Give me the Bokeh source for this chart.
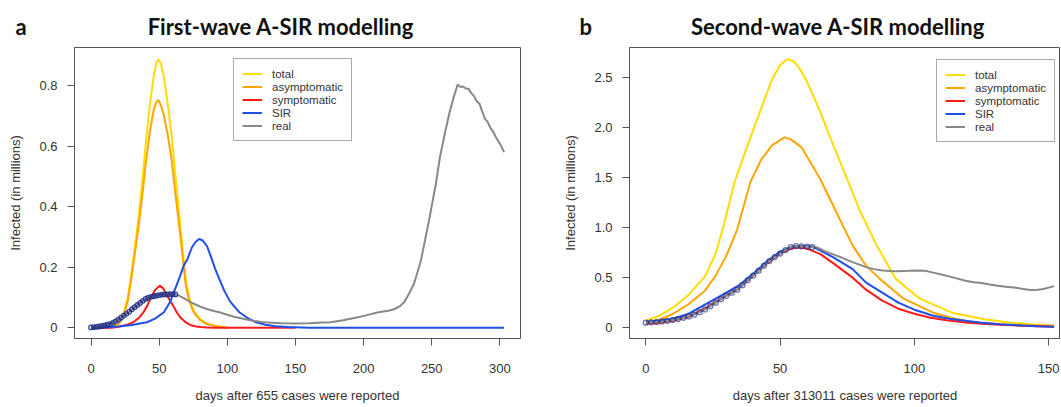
from bokeh.plotting import figure
from bokeh.layouts import row
from bokeh.models import Range1d, FixedTicker, Title
from bokeh.embed import file_html
from bokeh.resources import INLINE

# ---------------- data: first wave (panel a) ----------------
total1_days = [0, 10, 15, 18, 21, 24, 27, 29, 32, 35, 38, 40, 43, 46, 48, 49.4, 51, 53, 56, 59,
               62, 64.6, 67, 69.5, 72, 75, 77, 80, 85, 92, 100]
total1_vals = [0.0, 0.001, 0.003, 0.006, 0.02, 0.05, 0.10, 0.16, 0.26, 0.37, 0.50, 0.60, 0.73, 0.83,
               0.875, 0.886, 0.875, 0.84, 0.75, 0.64, 0.50, 0.38, 0.27, 0.16, 0.10, 0.06, 0.045,
               0.028, 0.013, 0.005, 0.0]
asym1_vals = [0.0, 0.001, 0.003, 0.005, 0.016, 0.043, 0.089, 0.145, 0.24, 0.338, 0.452, 0.535,
              0.643, 0.72, 0.745, 0.752, 0.737, 0.71, 0.645, 0.56, 0.44, 0.34, 0.242, 0.142,
              0.09, 0.054, 0.041, 0.026, 0.012, 0.005, 0.0]
sym1_days = [0, 15, 19, 23, 27, 31, 35, 38, 41.3, 44, 47, 50.4, 53, 56, 60.2, 63, 66, 69.5, 73,
             77, 80.6, 85, 90, 150]
sym1_vals = [0.0, 0.0, 0.002, 0.006, 0.011, 0.018, 0.032, 0.048, 0.073, 0.10, 0.125, 0.139, 0.13,
             0.105, 0.073, 0.05, 0.032, 0.018, 0.009, 0.004, 0.002, 0.001, 0.0, 0.0]
sir1_days = [0, 10, 20, 30, 41, 47, 53.5, 58, 61, 64.6, 68, 70.8, 74, 77, 79.4, 82, 85, 88, 91,
             94.1, 98, 102, 108.8, 115, 121, 128, 135, 145, 160, 303]
sir1_vals = [0.0, 0.001, 0.004, 0.009, 0.018, 0.03, 0.051, 0.085, 0.12, 0.161, 0.205, 0.227,
             0.265, 0.285, 0.293, 0.288, 0.27, 0.235, 0.195, 0.161, 0.12, 0.087, 0.051, 0.032,
             0.018, 0.01, 0.005, 0.002, 0.0, 0.0]
fit1_days = list(range(0, 64, 2))
fit1_vals = [0.001, 0.002, 0.003, 0.004, 0.006, 0.008, 0.010, 0.012, 0.016, 0.021, 0.027, 0.033,
             0.040, 0.046, 0.053, 0.061, 0.068, 0.075, 0.082, 0.089, 0.095, 0.099, 0.102, 0.104,
             0.106, 0.108, 0.109, 0.110, 0.110, 0.111, 0.111, 0.110]
rest1_days = [65, 70, 75, 80, 85, 90, 95, 100, 105, 110, 115, 120, 125, 130, 140, 150, 160, 170,
              176, 185, 195, 201, 210, 218, 223, 227, 230, 233, 237, 242, 248, 253, 256, 260, 263,
              266, 269, 271, 273, 275, 277, 279, 281, 283, 285, 287, 289, 291, 293, 295, 297, 299,
              301, 303]
rest1_vals = [0.105, 0.093, 0.080, 0.070, 0.062, 0.055, 0.050, 0.043, 0.036, 0.031, 0.026, 0.022,
              0.019, 0.017, 0.015, 0.014, 0.015, 0.017, 0.018, 0.025, 0.034, 0.040, 0.050, 0.056,
              0.062, 0.072, 0.086, 0.110, 0.145, 0.221, 0.354, 0.475, 0.563, 0.650, 0.710, 0.760,
              0.803, 0.795, 0.797, 0.790, 0.789, 0.775, 0.765, 0.748, 0.740, 0.715, 0.690, 0.680,
              0.660, 0.648, 0.630, 0.615, 0.600, 0.580]

# ---------------- data: second wave (panel b) ----------------
total2_days = [0, 5, 10, 16, 22, 26, 29, 33, 38, 42.4, 47, 50, 52.6, 55, 57, 59.5, 61, 65, 70,
               75, 80, 86, 93, 102, 114, 125, 135, 145, 152]
total2_vals = [0.07, 0.12, 0.197, 0.33, 0.51, 0.74, 1.02, 1.45, 1.83, 2.15, 2.48, 2.62, 2.68,
               2.66, 2.60, 2.48, 2.40, 2.15, 1.81, 1.48, 1.15, 0.82, 0.49, 0.29, 0.15, 0.09,
               0.053, 0.03, 0.02]
asym2_days = [0, 5, 10, 16, 22, 26, 30, 34, 39, 43, 47, 51.6, 54, 58, 62, 65, 71, 77, 82, 87,
              96, 107, 115, 122, 135, 152]
asym2_vals = [0.04, 0.08, 0.137, 0.236, 0.37, 0.52, 0.72, 0.98, 1.46, 1.68, 1.82, 1.90, 1.88,
              1.80, 1.62, 1.48, 1.15, 0.82, 0.62, 0.49, 0.29, 0.15, 0.09, 0.055, 0.03, 0.02]
sym2_days = [0, 5, 10, 16, 22, 28, 34.5, 40, 45, 50, 54, 57, 60, 65, 70, 77, 82, 88, 94, 100,
             106, 112, 119, 125, 132, 140, 146, 152]
sym2_vals = [0.04, 0.05, 0.07, 0.11, 0.19, 0.29, 0.39, 0.52, 0.64, 0.74, 0.79, 0.80, 0.79, 0.735,
             0.64, 0.50, 0.38, 0.27, 0.19, 0.14, 0.10, 0.075, 0.053, 0.04, 0.03, 0.02, 0.015, 0.01]
sir2_days = [0, 5, 10, 16, 22, 28, 34.5, 40, 45, 50, 54, 58, 62, 65, 70, 77, 82, 88, 94, 100,
             107, 113, 119, 125, 132, 140, 146, 152]
sir2_vals = [0.06, 0.07, 0.087, 0.14, 0.23, 0.32, 0.42, 0.54, 0.66, 0.76, 0.805, 0.815, 0.81,
             0.77, 0.70, 0.585, 0.45, 0.35, 0.25, 0.18, 0.12, 0.09, 0.07, 0.05, 0.035, 0.022,
             0.015, 0.01]
fit2_days = list(range(0, 64, 2))
fit2_vals = [0.050, 0.054, 0.058, 0.063, 0.069, 0.077, 0.087, 0.099, 0.113, 0.130, 0.155, 0.183,
             0.215, 0.250, 0.285, 0.318, 0.350, 0.380, 0.425, 0.475, 0.520, 0.570, 0.620, 0.665,
             0.705, 0.740, 0.775, 0.805, 0.815, 0.812, 0.810, 0.805]
rest2_days = [64, 67, 70, 73, 76, 79, 82, 85, 88, 91, 94, 98, 101, 104, 107, 110, 114, 119, 122,
              125, 128, 131, 134, 137, 140, 143, 146, 148, 150, 152]
rest2_vals = [0.80, 0.76, 0.73, 0.70, 0.665, 0.635, 0.605, 0.585, 0.572, 0.567, 0.565, 0.568,
              0.572, 0.569, 0.55, 0.532, 0.505, 0.469, 0.455, 0.446, 0.432, 0.419, 0.41, 0.402,
              0.39, 0.376, 0.38, 0.386, 0.40, 0.415]

# ---------------- axes / labels ----------------
x1_ticks = [0, 50, 100, 150, 200, 250, 300]
x1_labels = ["0", "50", "100", "150", "200", "250", "300"]
y1_ticks = [0, 0.2, 0.4, 0.6, 0.8]
y1_labels = ["0", "0.2", "0.4", "0.6", "0.8"]
x2_ticks = [0, 50, 100, 150]
x2_labels = ["0", "50", "100", "150"]
y2_ticks = [0, 0.5, 1, 1.5, 2, 2.5]
y2_labels = ["0", "0.5", "1.0", "1.5", "2.0", "2.5"]
series_names = ["total", "asymptomatic", "symptomatic", "SIR", "real"]
colors = ["#FFDD00", "#FFA500", "#FF1A1A", "#1E4FE6", "#888888"]

AX = "#555555"
TXT = "#333333"
FONT = "Liberation Sans"
EN = "\u2002"


def style_axis(ax, ticks, labels, label_text, tick_standoff, label_standoff):
    ax.ticker = FixedTicker(ticks=ticks)
    ax.major_label_overrides = {t: l for t, l in zip(ticks, labels)}
    ax.minor_tick_line_color = None
    ax.major_tick_out = 7
    ax.major_tick_in = 0
    ax.major_tick_line_color = AX
    ax.axis_line_color = AX
    ax.major_label_text_font = FONT
    ax.major_label_text_font_size = "13px"
    ax.major_label_text_color = TXT
    ax.major_label_standoff = tick_standoff
    ax.axis_label = label_text
    ax.axis_label_text_font = FONT
    ax.axis_label_text_font_size = "13px"
    ax.axis_label_text_font_style = "normal"
    ax.axis_label_text_color = TXT
    ax.axis_label_standoff = label_standoff


def make_panel(width, left, right, xr, yr, data, xt, xl, yt, yl, head, xlab,
               head_offset, legend_loc, circle_size, circle_alpha):
    p = figure(width=width, height=406, output_backend="svg", toolbar_location=None,
               x_range=Range1d(*xr), y_range=Range1d(*yr),
               min_border_left=left, min_border_right=right, min_border_top=47,
               min_border_bottom=68)
    p.xgrid.grid_line_color = None
    p.ygrid.grid_line_color = None
    p.background_fill_color = "white"
    p.border_fill_color = "white"
    p.outline_line_color = AX
    p.outline_line_width = 1
    p.outline_line_alpha = 1
    style_axis(p.below[0], xt, xl, xlab, 18, 12)
    style_axis(p.left[0], yt, yl, "Infected (in millions)", 10, 13)

    (td, tv), (ad, av), (sd, sv), (rd, rv), (fd, fv), (qd, qv) = data
    p.line(td, tv, color=colors[0], line_width=2, legend_label=series_names[0])
    p.line(ad, av, color=colors[1], line_width=2, legend_label=series_names[1])
    p.line(sd, sv, color=colors[2], line_width=2, legend_label=series_names[2])
    p.line(rd, rv, color=colors[3], line_width=2, legend_label=series_names[3])
    p.line(fd + qd, fv + qv, color=colors[4], line_width=2, legend_label=series_names[4])
    p.scatter(fd, fv, marker="circle", size=circle_size, fill_color=None, line_color="#1B2C85",
              line_alpha=circle_alpha, line_width=1.3)

    lg = p.legend[0]
    lg.location = legend_loc
    lg.border_line_color = AX
    lg.border_line_width = 1
    lg.background_fill_color = "white"
    lg.background_fill_alpha = 1
    lg.padding = 8
    lg.spacing = 0
    lg.margin = 0
    lg.label_height = 13
    lg.glyph_height = 13
    lg.glyph_width = 20
    lg.label_standoff = 10
    lg.label_text_font = FONT
    lg.label_text_font_size = "11.5px"
    lg.label_text_color = TXT
    lg.label_text_baseline = "middle"

    p.add_layout(Title(text=head, align="left", offset=head_offset, standoff=16,
                       text_font="Lato", text_font_style="bold", text_font_size="22px",
                       text_color="#111111"), "above")
    return p


p1 = make_panel(560, 74, 40, (-12.12, 315.12), (-0.0356, 0.9256),
                [(total1_days, total1_vals), (total1_days, asym1_vals), (sym1_days, sym1_vals),
                 (sir1_days, sir1_vals), (fit1_days, fit1_vals), (rest1_days, rest1_vals)],
                x1_ticks, x1_labels, y1_ticks, y1_labels,
                "a" + EN * 11 + "First-wave A-SIR modelling",
                "days after 655 cases were reported", -59, (159, 197), 4.5, 0.85)

p2 = make_panel(500, 63, 0, (-6.08, 154.39), (-0.1076, 2.7976),
                [(total2_days, total2_vals), (asym2_days, asym2_vals), (sym2_days, sym2_vals),
                 (sir2_days, sir2_vals), (fit2_days, fit2_vals), (rest2_days, rest2_vals)],
                x2_ticks, x2_labels, y2_ticks, y2_labels,
                "b" + EN * 9 + "Second-wave A-SIR modelling",
                "days after 313011 cases were reported", -50, (307, 196), 5, 0.65)

layout = row(p1, p2)
open("out.html", "w").write(file_html(layout, INLINE))
